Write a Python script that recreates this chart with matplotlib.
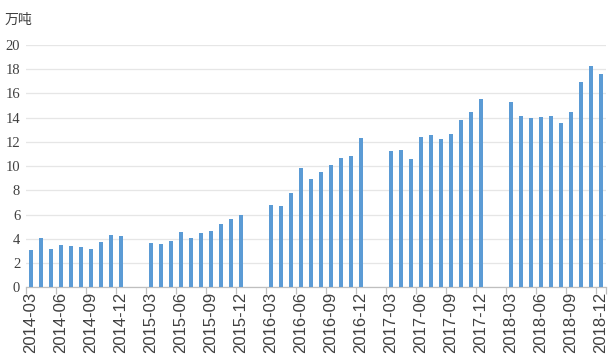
import matplotlib
matplotlib.use("Agg")
import matplotlib.pyplot as plt
import numpy as np

months = [f"{y}-{m:02d}" for y in range(2014, 2019) for m in range(1, 13)][2:]
values = [
    # 2014-03 .. 2014-12
    3.1, 4.1, 3.2, 3.5, 3.4, 3.3, 3.2, 3.75, 4.3, 4.25,
    # 2015-01 .. 2015-12
    None, None, 3.65, 3.6, 3.85, 4.55, 4.1, 4.5, 4.65, 5.25, 5.65, 6.0,
    # 2016
    None, None, 6.8, 6.72, 7.8, 9.85, 8.95, 9.55, 10.1, 10.7, 10.85, 12.35,
    # 2017
    None, None, 11.25, 11.35, 10.6, 12.4, 12.6, 12.25, 12.65, 13.85, 14.5, 15.55,
    # 2018
    None, None, 15.3, 14.1, 14.0, 14.08, 14.15, 13.6, 14.5, 16.95, 18.3, 17.6,
]
unit_label = "万吨"
y_ticks = [0, 2, 4, 6, 8, 10, 12, 14, 16, 18, 20]

plt.rcParams['font.family'] = ['Liberation Sans', 'DejaVu Sans']

fig = plt.figure(figsize=(6.15, 3.57), dpi=100)
ax = fig.add_axes([0.0418, 0.195, 0.943, 0.679])

x = np.arange(len(months))
vals = np.array([np.nan if v is None else v for v in values], dtype=float)
ax.bar(x, vals, width=0.38, color="#5B9BD5", zorder=3)

ax.set_xlim(-0.5, len(months) - 0.5)
ax.set_ylim(0, 20)
ax.set_yticks(y_ticks)
ax.set_yticklabels([str(t) for t in y_ticks], fontsize=10.5, color="#404040",
                   family=['Liberation Serif', 'DejaVu Serif'])
ax.grid(axis="y", color="#e6e6e6", linewidth=0.9, zorder=0)
ax.tick_params(axis="y", length=0, pad=4)

label_idx = [i for i, m in enumerate(months) if int(m[-2:]) % 3 == 0]
ax.set_xticks(label_idx)
ax.set_xticklabels([months[i] for i in label_idx], rotation=90, fontsize=12,
                   color="#404040")
ax.tick_params(axis="x", length=0, pad=3)
ax.set_xticks([i - 0.5 for i in label_idx] + [len(months) - 0.5], minor=True)
ax.tick_params(axis="x", which="minor", length=5, color="#bfbfbf", width=0.9)

for s in ["top", "right", "left"]:
    ax.spines[s].set_visible(False)
ax.spines["bottom"].set_color("#bfbfbf")
ax.spines["bottom"].set_linewidth(0.9)

fig.text(0.008, 0.945, unit_label, fontsize=10, color="#404040",
         family=['Noto Sans CJK SC', 'DejaVu Sans'], va="center", ha="left")

fig.savefig("out.png", dpi=100)
